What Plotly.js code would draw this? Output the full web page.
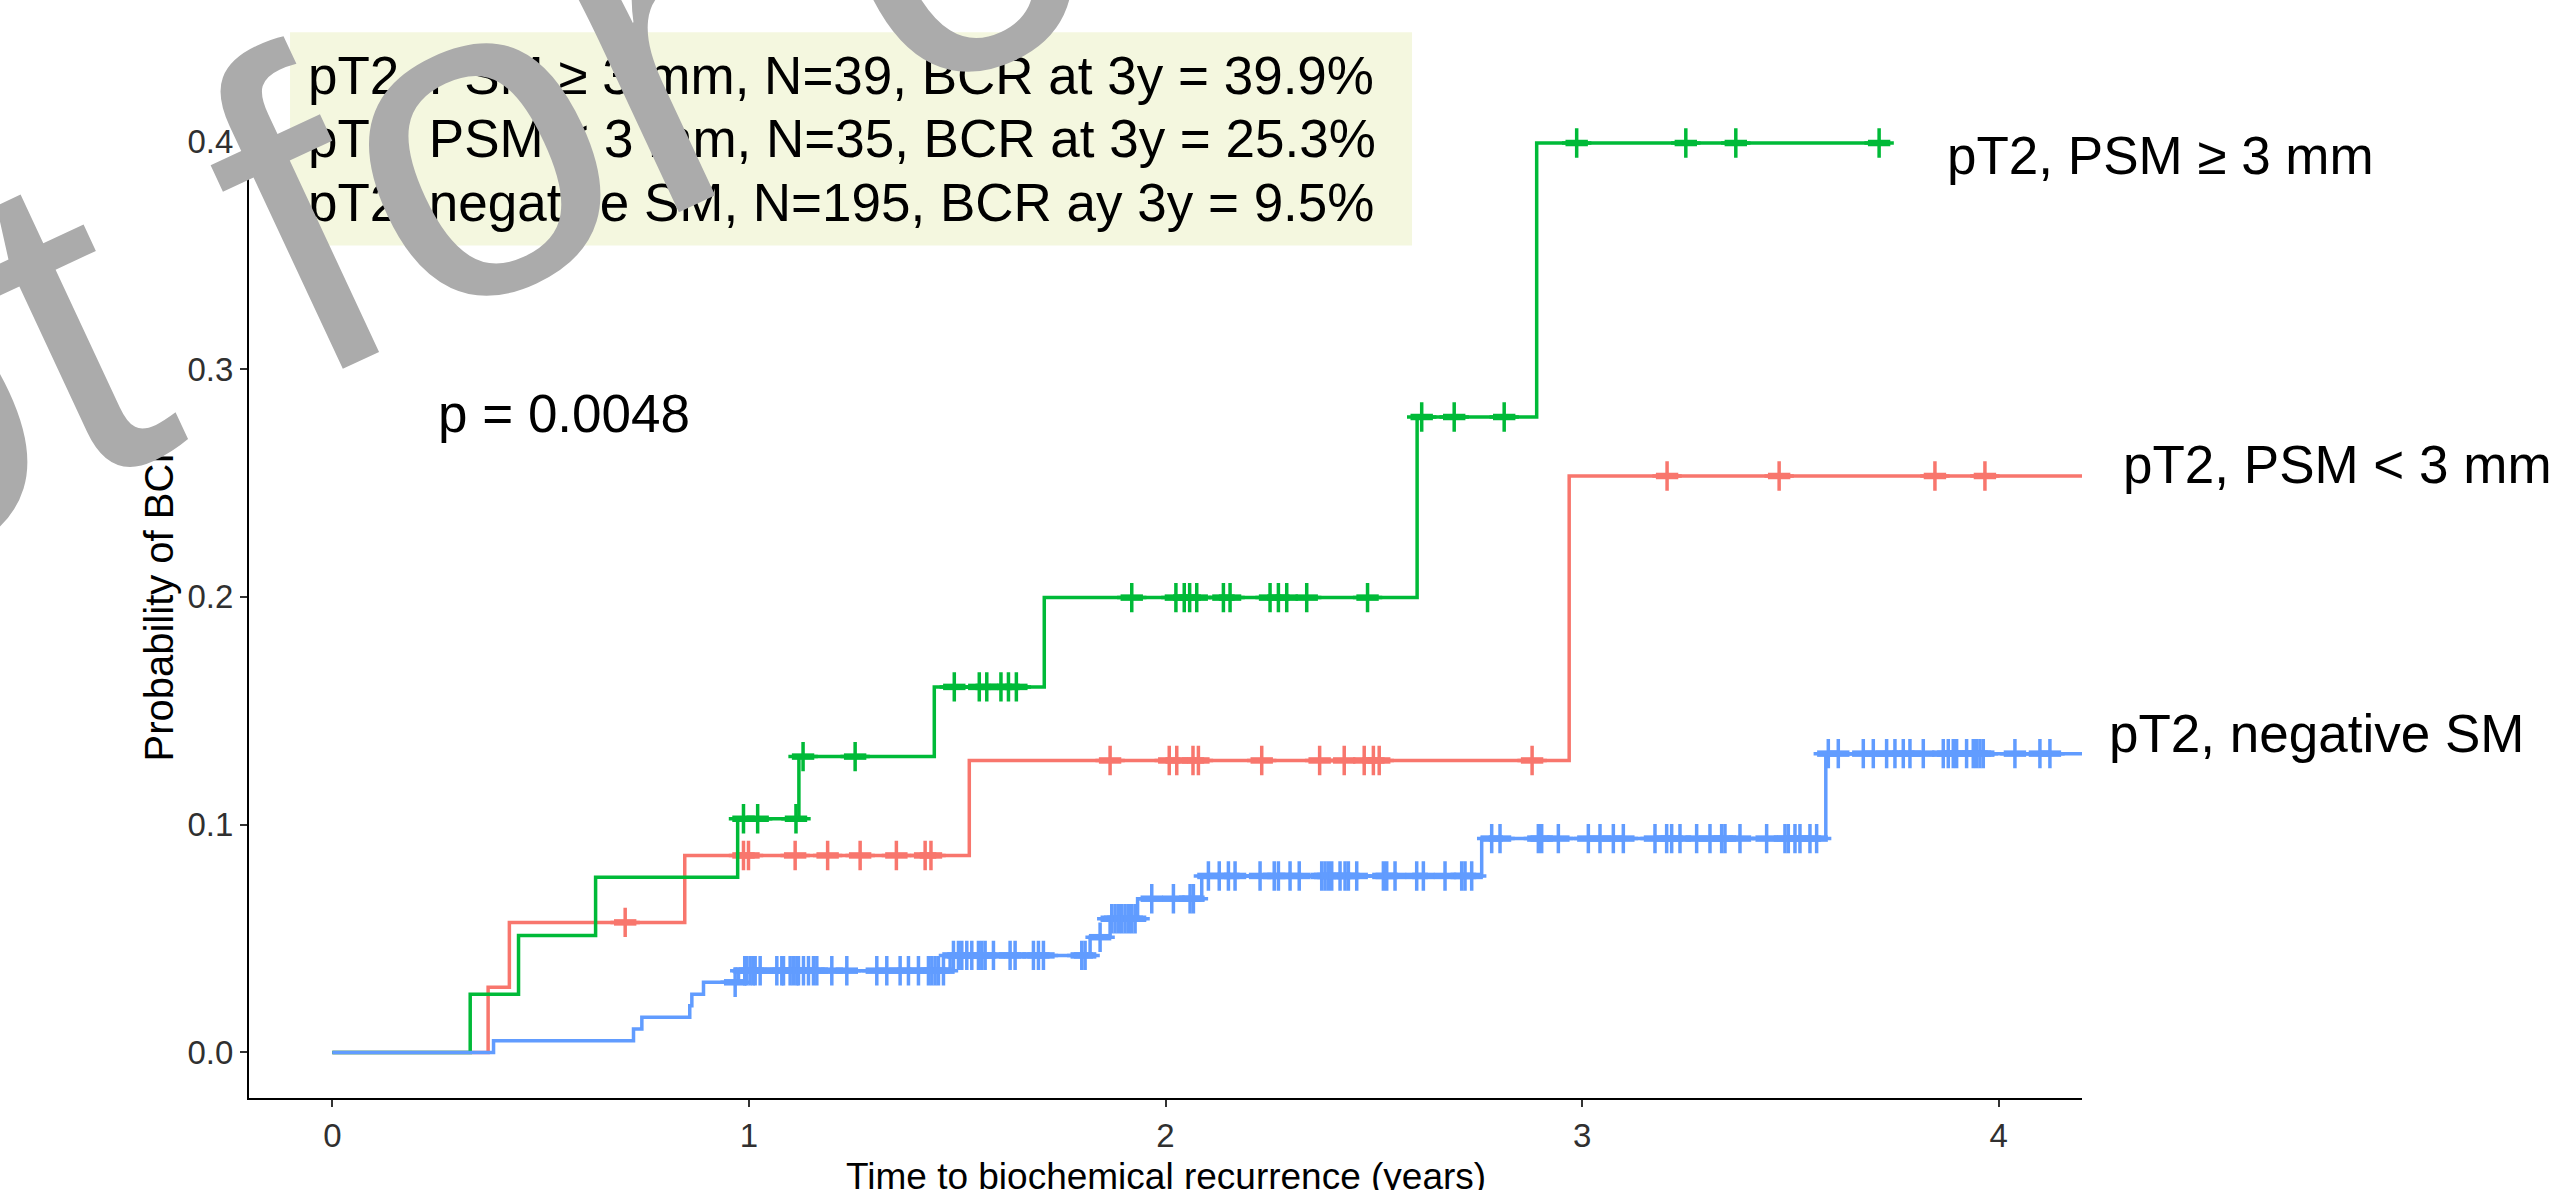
<!DOCTYPE html>
<html>
<head>
<meta charset="utf-8">
<script src="https://cdn.plot.ly/plotly-3.0.1.min.js"></script>
<style>
  html, body { margin: 0; padding: 0; background: #ffffff; }
  #chart { width: 2555px; height: 1190px; }
</style>
</head>
<body>
<div id="chart"></div>
<script>
// ---------------- data ----------------
const groupNames = ["pT2, PSM ≥ 3 mm", "pT2, PSM < 3 mm", "pT2, negative SM"];

// pT2, PSM >= 3 mm (N=39)
const greenTimes = [0, 0.331, 0.447, 0.632, 0.973, 1.120, 1.445, 1.709, 2.604, 2.891];
const greenVals  = [0, 0.0256, 0.0513, 0.0769, 0.1026, 0.1299, 0.1605, 0.1997, 0.2790, 0.3993];
const greenEnd = 3.737;
const greenCensor = [0.987, 1.021, 1.113, 1.130, 1.255, 1.493, 1.553, 1.571, 1.605, 1.623, 1.642,
  1.919, 2.025, 2.045, 2.058, 2.075, 2.139, 2.155, 2.251, 2.271, 2.291, 2.339, 2.485,
  2.615, 2.693, 2.813, 2.987, 3.249, 3.369, 3.713];

// pT2, PSM < 3 mm (N=35)
const redTimes = [0, 0.374, 0.425, 0.846, 1.529, 2.969];
const redVals  = [0, 0.0286, 0.0571, 0.0865, 0.1282, 0.2531];
const redEnd = 4.3;
const redCensor = [0.703, 0.987, 0.999, 1.111, 1.189, 1.267, 1.354, 1.423, 1.437,
  1.867, 2.009, 2.027, 2.066, 2.079, 2.231, 2.370, 2.429, 2.477, 2.499, 2.513, 2.880,
  3.204, 3.473, 3.847, 3.967];

// pT2, negative SM (N=195)
const blueTimes = [0, 0.387, 0.723, 0.743, 0.858, 0.863, 0.891, 0.975, 1.483, 1.819, 1.867, 1.933, 2.087, 2.759, 3.585];
const blueVals  = [0, 0.0051, 0.0103, 0.0154, 0.0205, 0.0256, 0.0308, 0.0359, 0.0426, 0.0506, 0.0587, 0.0675, 0.0775, 0.0939, 0.1312];
const blueEnd = 4.3;
const blueCensor = [0.967, 0.990, 0.995, 1.003, 1.010, 1.015, 1.027, 1.067, 1.079, 1.083, 1.099, 1.107, 1.115, 1.119,
  1.131, 1.143, 1.155, 1.163, 1.199, 1.235, 1.307, 1.331, 1.363, 1.383, 1.407, 1.431, 1.439, 1.447, 1.455, 1.467,
  1.491, 1.503, 1.511, 1.523, 1.535, 1.551, 1.559, 1.567, 1.587, 1.627, 1.639, 1.683, 1.695, 1.707, 1.799, 1.807,
  1.843, 1.871, 1.879, 1.887, 1.895, 1.903, 1.911, 1.919, 1.927, 1.967, 2.019, 2.059, 2.067,
  2.103, 2.129, 2.151, 2.167, 2.227, 2.261, 2.271, 2.299, 2.321, 2.375, 2.383, 2.391, 2.399, 2.419, 2.431,
  2.439, 2.459, 2.523, 2.531, 2.551, 2.603, 2.619, 2.671, 2.711, 2.719, 2.735,
  2.783, 2.803, 2.895, 2.903, 2.943, 3.015, 3.043, 3.075, 3.099, 3.175, 3.203, 3.215, 3.235, 3.275,
  3.307, 3.335, 3.343, 3.379, 3.443, 3.487, 3.495, 3.511, 3.523, 3.547, 3.563,
  3.591, 3.615, 3.675, 3.699, 3.731, 3.751, 3.771, 3.787, 3.819, 3.867, 3.879, 3.891, 3.899, 3.923,
  3.939, 3.947, 3.955, 3.963, 4.039, 4.099, 4.123];

const boxLines = [
  "pT2, PSM ≥ 3 mm, N=39, BCR at 3y = 39.9%",
  "pT2, PSM &lt; 3 mm, N=35, BCR at 3y = 25.3%",
  "pT2, negative SM, N=195, BCR ay 3y = 9.5%"
];
const curveLabels = ["pT2, PSM ≥ 3 mm", "pT2, PSM &lt; 3 mm", "pT2, negative SM"];
const pText = "p = 0.0048";
const xTickVals = [0, 1, 2, 3, 4];
const xTickText = ["0", "1", "2", "3", "4"];
const yTickVals = [0, 0.1, 0.2, 0.3, 0.4];
const yTickText = ["0.0", "0.1", "0.2", "0.3", "0.4"];
const xTitle = "Time to biochemical recurrence (years)";
const yTitle = "Probability of BCR";
const watermark = "Not for commercial use";

// ---------------- helpers ----------------
function levelAt(times, vals, t) {
  let v = vals[0];
  for (let i = 0; i < times.length; i++) { if (times[i] <= t) v = vals[i]; }
  return v;
}
function stepTrace(times, vals, end, color, name) {
  return {
    x: times.concat([end]), y: vals.concat([vals[vals.length - 1]]),
    type: 'scatter', mode: 'lines', line: { shape: 'hv', color: color, width: 3.5 },
    name: name, showlegend: false, hoverinfo: 'skip'
  };
}
function censorTraces(times, vals, cens, color, name) {
  const ys = cens.map(t => levelAt(times, vals, t));
  return [{
    x: cens, y: ys, type: 'scatter', mode: 'markers',
    marker: { symbol: 'cross-thin', size: 21, color: color, line: { color: color, width: 3.5 } },
    name: name, showlegend: false, hoverinfo: 'skip'
  }, {
    x: cens, y: ys, type: 'scatter', mode: 'markers',
    marker: { symbol: 'line-ew', size: 16, color: color, line: { color: color, width: 6.5 } },
    name: name, showlegend: false, hoverinfo: 'skip'
  }];
}

const GREEN = '#00BA38', RED = '#F8766D', BLUE = '#619CFF';
const traces = [].concat(
  [stepTrace(redTimes, redVals, redEnd, RED, groupNames[1])],
  censorTraces(redTimes, redVals, redCensor, RED, groupNames[1]),
  [stepTrace(greenTimes, greenVals, greenEnd, GREEN, groupNames[0])],
  censorTraces(greenTimes, greenVals, greenCensor, GREEN, groupNames[0]),
  [stepTrace(blueTimes, blueVals, blueEnd, BLUE, groupNames[2])],
  censorTraces(blueTimes, blueVals, blueCensor, BLUE, groupNames[2])
);

const FONT = 'Liberation Sans, Arial, sans-serif';
const NARROW = 'Liberation Sans Narrow, Arial Narrow, Liberation Sans, Arial, sans-serif';

const annotations = [];
const boxY = [1.0217, 0.9584, 0.8951];
boxLines.forEach((t, i) => annotations.push({
  xref: 'paper', yref: 'paper', x: 0.0311, y: boxY[i], xanchor: 'left', yanchor: 'middle',
  text: t, showarrow: false, font: { family: FONT, size: 53, color: '#000000' }
}));
annotations.push({
  xref: 'paper', yref: 'paper', x: 0.102, y: 0.6843, xanchor: 'left', yanchor: 'middle',
  text: pText, showarrow: false, font: { family: FONT, size: 53, color: '#000000' }
});
const labelPos = [[0.9253, 0.9416], [1.0213, 0.633], [1.0136, 0.3646]];
curveLabels.forEach((t, i) => annotations.push({
  xref: 'paper', yref: 'paper', x: labelPos[i][0], y: labelPos[i][1], xanchor: 'left', yanchor: 'middle',
  text: t, showarrow: false, font: { family: FONT, size: 53, color: '#000000' }
}));
annotations.push({
  xref: 'paper', yref: 'paper', x: 0.5, y: -0.0789, xanchor: 'center', yanchor: 'middle',
  text: xTitle, showarrow: false, font: { family: FONT, size: 37, color: '#000000' }
});
annotations.push({
  xref: 'paper', yref: 'paper', x: -0.0491, y: 0.5, xanchor: 'center', yanchor: 'middle',
  text: yTitle, textangle: -90, showarrow: false, font: { family: FONT, size: 40, color: '#000000' }
});
annotations.push({
  xref: 'paper', yref: 'paper', x: 0.7385, y: 1.490, xanchor: 'center', yanchor: 'middle',
  text: watermark, textangle: -25, showarrow: false, font: { family: FONT, size: 455, color: '#ABABAB' }
});

const layout = {
  width: 2555, height: 1190,
  margin: { l: 249, r: 473, t: 97, b: 92, pad: 0 },
  paper_bgcolor: '#ffffff', plot_bgcolor: '#ffffff',
  showlegend: false,
  xaxis: {
    range: [-0.2, 4.2], showgrid: false, zeroline: false,
    showline: true, linecolor: '#000000', linewidth: 2,
    ticks: 'outside', ticklen: 7, tickwidth: 2, tickcolor: '#333333',
    tickvals: xTickVals, ticktext: xTickText,
    tickfont: { family: NARROW, size: 33, color: '#303030' }
  },
  yaxis: {
    range: [-0.02, 0.4195], showgrid: false, zeroline: false,
    showline: true, linecolor: '#000000', linewidth: 2,
    ticks: 'outside', ticklen: 7, tickwidth: 2, tickcolor: '#333333',
    tickvals: yTickVals, ticktext: yTickText,
    tickfont: { family: NARROW, size: 33, color: '#303030' }
  },
  shapes: [{
    type: 'rect', xref: 'paper', yref: 'paper', x0: 0.0224, x1: 0.6345, y0: 0.8516, y1: 1.0647,
    fillcolor: '#F4F7DF', line: { width: 0 }, layer: 'above'
  }],
  annotations: annotations
};

Plotly.newPlot('chart', traces, layout, { displayModeBar: false, staticPlot: true });
</script>
</body>
</html>
